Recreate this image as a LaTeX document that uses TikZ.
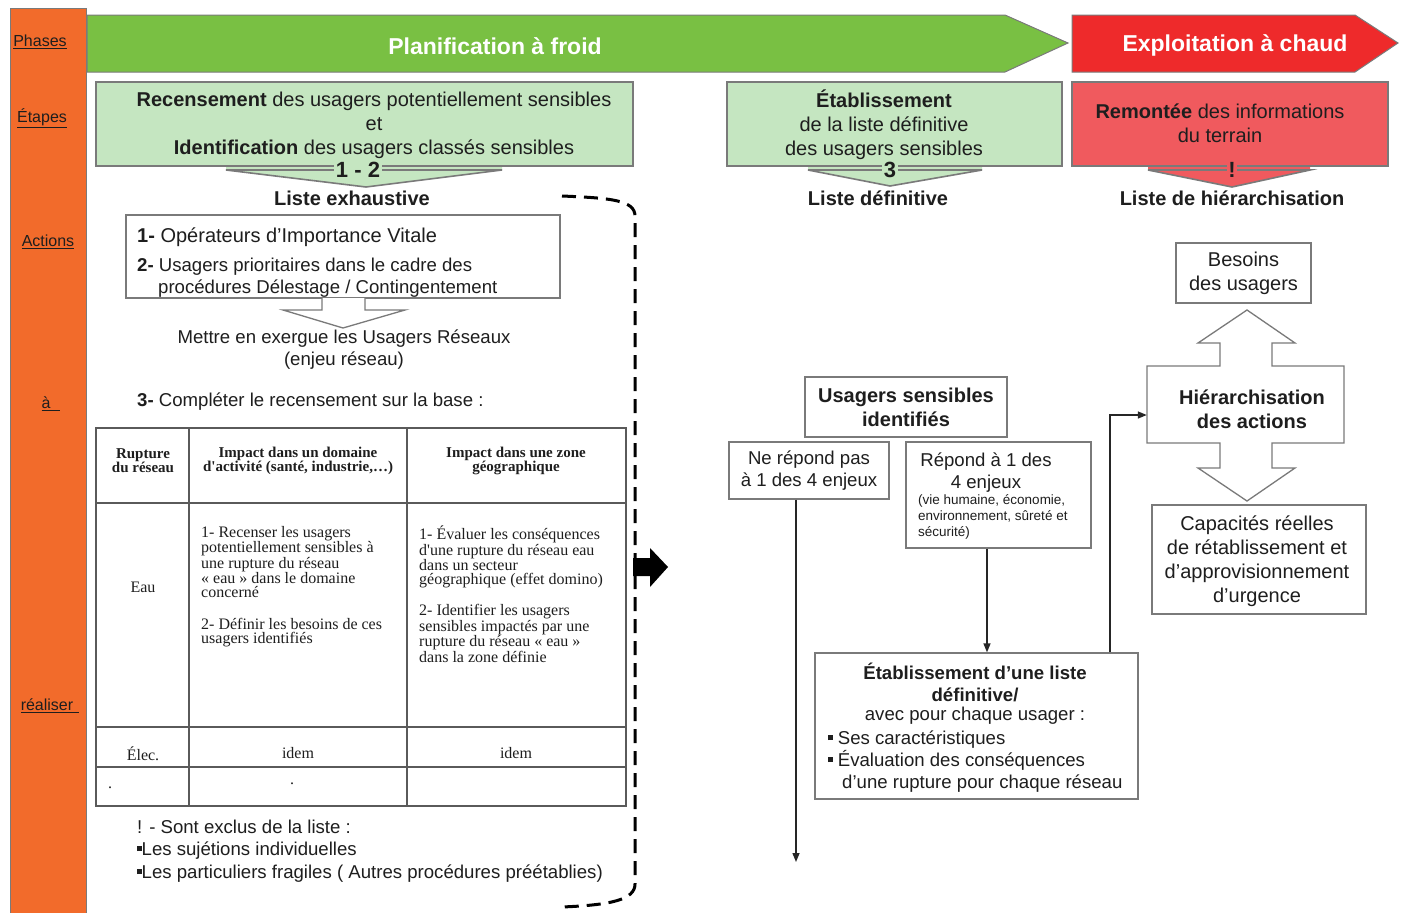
\documentclass[tikz,border=0pt]{standalone}
\usepackage{fontspec}
\setmainfont{Liberation Sans}
\newfontfamily\serifT{Liberation Serif}
\usetikzlibrary{arrows.meta}
\definecolor{orangecol}{HTML}{F26B2B}
\definecolor{greenarrow}{HTML}{79C043}
\definecolor{greenbox}{HTML}{C5E6C1}
\definecolor{redarrow}{HTML}{EE2A2B}
\definecolor{redbox}{HTML}{F05A5E}
\definecolor{linegray}{HTML}{7A7A7A}
\definecolor{textcol}{HTML}{1E1E1E}
\definecolor{tabline}{HTML}{5A5A5A}
\newcommand{\fsBody}{\fontsize{20}{24}\selectfont}
\newcommand{\fsMid}{\fontsize{18.6}{22}\selectfont}
\newcommand{\fsTitle}{\fontsize{23}{28}\selectfont}
\newcommand{\fsLbl}{\fontsize{16}{18}\selectfont}
\newcommand{\fsTab}{\serifT\fontsize{16}{14}\selectfont}
\newcommand{\fsTabH}{\serifT\fontsize{15}{14}\selectfont\bfseries}
\newcommand{\fsSmall}{\fontsize{13.5}{16}\selectfont}
\newcommand{\fsChev}{\fontsize{22}{24}\selectfont\bfseries}
\newcommand{\sqb}{\rule[4pt]{4.5pt}{5pt}}
\begin{document}
\begin{tikzpicture}[x=1pt,y=-1pt,
  every node/.style={text=textcol},
  box/.style={draw=linegray, line width=1.3pt, fill=white, inner sep=0pt, align=center, font=\fsBody},
  txt/.style={inner sep=0pt, align=center, font=\fsBody},
  ltxt/.style={inner sep=0pt, anchor=base west, font=\fsBody},
  lbl/.style={inner sep=0pt, font=\fsLbl},
  ttl/.style={inner sep=0pt, font=\fsTitle\bfseries, text=white},
  chev/.style={draw=linegray, line width=1.6pt, line join=miter},
  chevlbl/.style={inner sep=1.5pt, font=\fsChev},
  tab/.style={draw=tabline, line width=1.8pt},
  ttxt/.style={inner sep=0pt, align=center, font=\fsTab},
  tltxt/.style={inner sep=0pt, align=left, anchor=north west, font=\fsTab},
  conn/.style={draw=black!85, line width=1.4pt, -{Triangle[length=9pt,width=7pt]}},
  plain/.style={draw=black!85, line width=1.4pt}
]
\path[use as bounding box, fill=white] (0,0) rectangle (1406,913);

% left orange column
\node[fill=orangecol, draw=linegray, line width=1pt, minimum width=76pt, minimum height=905pt, inner sep=0pt] (col) at (48,461) {};
\node[lbl] (lphases) at (40,42) {\underline{Phases}};
\node[lbl] (letapes) at (42,118) {\underline{Étapes}};
\node[lbl] (lactions) at (48,242) {\underline{Actions}};
\node[lbl] (la) at (51,404) {\underline{à\hspace{10pt}}};
\node[lbl] (lrealiser) at (50,706) {\underline{réaliser\hspace{6pt}}};

% phase arrows
\draw[fill=greenarrow, draw=linegray, line width=1pt] (87,15) -- (1005,15) -- (1068,43) -- (1005,72) -- (87,72) -- cycle;
\node[ttl] (tplan) at (495,46) {Planification à froid};
\draw[fill=redarrow, draw=linegray, line width=1pt] (1072,15) -- (1355,15) -- (1398,43) -- (1355,72) -- (1072,72) -- cycle;
\node[ttl] (texpl) at (1235,45) {Exploitation à chaud};

% step 1-2
\fill[greenbox] (226,166) -- (502,166) -- (502,170) -- (366,187) -- (226,170) -- cycle;
\draw[chev] (226,170) -- (502,170) -- (366,187) -- cycle;
\node[box, fill=greenbox, minimum width=537pt, minimum height=84pt] (g1) at (364.5,124) {};
\node[txt] (g1t) at (374,125) {\textbf{Recensement} des usagers potentiellement sensibles\\et\\\textbf{Identification} des usagers classés sensibles};
\node[chevlbl, fill=greenbox] (c12) at (358,170) {1 - 2};
\node[txt, font=\fsBody\bfseries] (lexh) at (352,198) {Liste exhaustive};

% step 3
\fill[greenbox] (808,166) -- (982,166) -- (982,170) -- (890,186) -- (808,170) -- cycle;
\draw[chev] (808,170) -- (982,170) -- (890,186) -- cycle;
\node[box, fill=greenbox, minimum width=335pt, minimum height=84pt] (g2) at (894.5,124) {};
\node[txt] (g2t) at (884,125) {\textbf{Établissement}\\de la liste définitive\\des usagers sensibles};
\node[chevlbl, fill=greenbox] (c3) at (890,170) {3};
\node[txt, font=\fsBody\bfseries] (ldef) at (878,198) {Liste définitive};

% step !
\fill[redbox] (1148,166) -- (1310,166) -- (1310,170) -- (1232,187) -- (1148,170) -- cycle;
\draw[chev] (1148,170) -- (1310,170) -- (1232,187) -- cycle;
\node[box, fill=redbox, minimum width=316pt, minimum height=84pt] (r1) at (1230,124) {};
\node[txt] (r1t) at (1220,123) {\textbf{Remontée} des informations\\du terrain};
\node[chevlbl, fill=redbox] (cex) at (1232,170) {!};
\node[txt, font=\fsBody\bfseries] (lhier) at (1232,198) {Liste de hiérarchisation};

% actions box
\node[box, minimum width=434pt, minimum height=83pt] (a0) at (343,256.5) {};
\node[ltxt] (a1) at (137,242) {\textbf{1-} Opérateurs d'Importance Vitale};
\node[ltxt, font=\fsMid] (a2) at (137,271) {\textbf{2-} Usagers prioritaires dans le cadre des};
\node[ltxt, font=\fsMid] (a3) at (158,293) {procédures Délestage / Contingentement};
\draw[fill=white, draw=linegray, line width=1.3pt] (322,298) -- (322,310) -- (283,310) -- (343,328) -- (405,310) -- (365,310) -- (365,298);
\node[txt, font=\fsMid] (mex) at (344,350) {Mettre en exergue les Usagers Réseaux\\(enjeu réseau)};
\node[ltxt, font=\fsMid] (a4) at (137,406) {\textbf{3-} Compléter le recensement sur la base :};

% table
\draw[tab] (96,428) rectangle (626,806);
\draw[tab] (189,428) -- (189,806);
\draw[tab] (407,428) -- (407,806);
\draw[tab] (96,503) -- (626,503);
\draw[tab] (96,727) -- (626,727);
\draw[tab, line width=2.6pt] (96,767) -- (626,767);
\node[ttxt, font=\fsTabH] (th1) at (143,461) {Rupture\\du réseau};
\node[ttxt, font=\fsTabH] (th2) at (298,461) {Impact dans un domaine\\d'activité (santé, industrie,…)};
\node[ttxt, font=\fsTabH] (th3) at (516,461) {Impact dans une zone\\géographique};
\node[ttxt] (teau) at (143,587) {Eau};
\node[tltxt] (tc21) at (201,526) {1- Recenser les usagers\\potentiellement sensibles à\\une rupture du réseau\\« eau » dans le domaine\\concerné};
\node[tltxt] (tc22) at (201,618) {2- Définir les besoins de ces\\usagers identifiés};
\node[tltxt] (tc31) at (419,526) {1- Évaluer les conséquences\\d'une rupture du réseau eau\\dans un secteur\\géographique (effet domino)};
\node[tltxt] (tc32) at (419,604) {2- Identifier les usagers\\sensibles impactés par une\\rupture du réseau « eau »\\dans la zone définie};
\node[ttxt] (telec) at (143,754) {Élec.};
\node[ttxt] (tid1) at (298,753) {idem};
\node[ttxt] (tid2) at (516,753) {idem};
\node[ttxt] (tdot1) at (110,788) {.};
\node[ttxt] (tdot2) at (292,784) {.};

% notes
\node[ltxt, font=\fsMid] (n1) at (137,833) {! - Sont exclus de la liste :};
\node[ltxt, font=\fsMid] (n2) at (137,855) {\sqb Les sujétions individuelles};
\node[ltxt, font=\fsMid] (n3) at (137,878) {\sqb Les particuliers fragiles ( Autres procédures préétablies)};

% dashed bracket and big arrow
\draw[line width=3pt, dash pattern=on 14pt off 8pt, black] (562,196) .. controls (610,198) and (635,200) .. (635,216) -- (635,884) .. controls (635,900) and (610,905) .. (562,907);
\fill[black] (633,558) -- (650,558) -- (650,548) -- (668,567) -- (650,587) -- (650,576) -- (633,576) -- cycle;

% right: hierarchisation
\node[box, minimum width=135pt, minimum height=60pt] (bes) at (1243.5,273) {Besoins\\des usagers};
\draw[fill=white, draw=linegray, line width=1.3pt, line join=miter] (1147,366) -- (1220,366) -- (1220,343) -- (1198,343) -- (1247,310) -- (1295,343) -- (1272,343) -- (1272,366) -- (1344,366) -- (1344,443) -- (1272,443) -- (1272,468) -- (1295,468) -- (1247,501) -- (1198,468) -- (1220,468) -- (1220,443) -- (1147,443) -- cycle;
\node[txt, minimum width=197pt, minimum height=77pt, font=\fsBody\bfseries] (hier) at (1245.5,404.5) {};
\node[txt, font=\fsBody\bfseries] (hiert) at (1252,409) {Hiérarchisation\\des actions};
\node[box, minimum width=214pt, minimum height=109pt] (cap) at (1259,559.5) {};
\node[txt] (capt) at (1257,561) {Capacités réelles\\de rétablissement et\\d'approvisionnement\\d'urgence};

% right: usagers
\node[box, minimum width=202pt, minimum height=60pt, font=\fsBody\bfseries] (us) at (906,407) {Usagers sensibles\\identifiés};
\node[box, minimum width=160pt, minimum height=57pt, font=\fsMid] (ne) at (809,470.5) {Ne répond pas\\à 1 des 4 enjeux};
\node[box, minimum width=185pt, minimum height=106pt] (rep) at (998.5,495) {};
\node[txt, font=\fsMid] (rept) at (986,473) {Répond à 1 des\\4 enjeux};
\node[inner sep=0pt, anchor=north west, align=left, font=\fsSmall] (reps) at (918,494) {(vie humaine, économie,\\environnement, sûreté et\\sécurité)};
\node[box, minimum width=323pt, minimum height=146pt] (etab) at (976.5,726) {};
\node[txt, font=\fsMid\bfseries] (etab1) at (975,682.5) {Établissement d'une liste\\définitive/};
\node[txt, font=\fsMid] (etab2) at (975,716) {avec pour chaque usager :};
\node[ltxt, font=\fsMid] (etab3) at (828,744) {\sqb\ Ses caractéristiques};
\node[ltxt, font=\fsMid] (etab4) at (828,766) {\sqb\ Évaluation des conséquences};
\node[ltxt, font=\fsMid] (etab5) at (842,788) {d'une rupture pour chaque réseau};

\coordinate (neend) at (796,862);
\draw[conn] (ne.south -| neend) -- (neend);
\draw[conn] (rep.south -| 987,0) -- (etab.north -| 987,0);
\draw[conn] (etab.north -| 1110,0) |- (hier.west |- 0,415);
\end{tikzpicture}
\end{document}
